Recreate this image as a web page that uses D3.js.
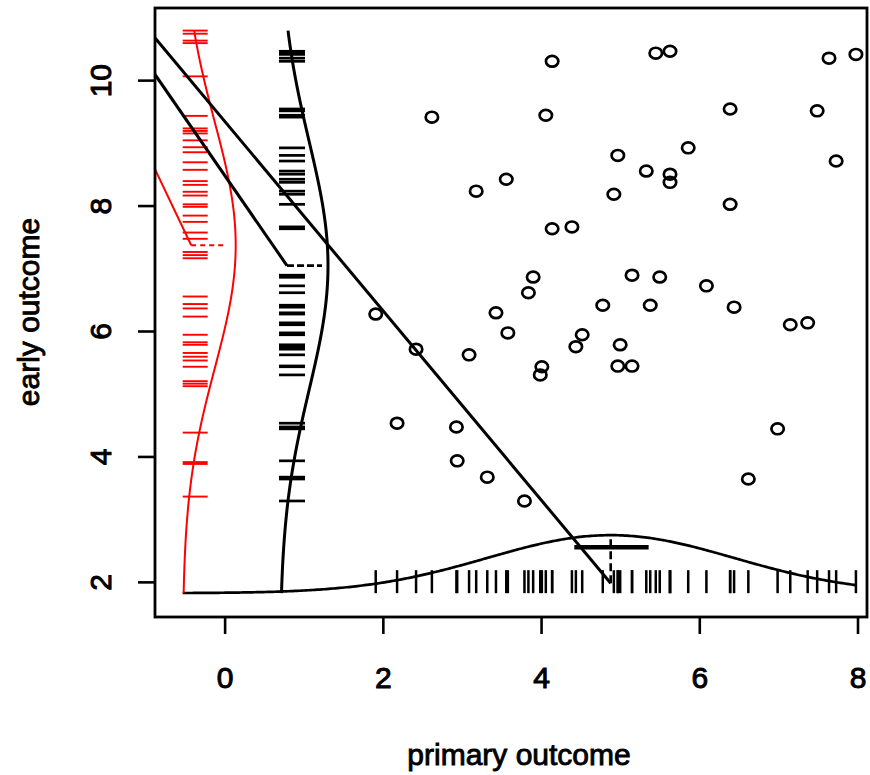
<!DOCTYPE html>
<html>
<head>
<meta charset="utf-8">
<script src="https://cdn.jsdelivr.net/npm/d3@7"></script>
<style>
  html, body { margin: 0; padding: 0; background: #fff; }
  svg { display: block; }
  text { font-family: "Liberation Sans", Arial, Helvetica, sans-serif; }
</style>
</head>
<body>
<svg id="chart" width="870" height="775"></svg>
<script>
// Subjects with both outcomes observed
const primaryOutcome = [
  4.14, 5.45, 5.63, 7.64, 7.98, 2.62, 4.06, 6.39, 7.49, 4.97,
  5.86, 7.73, 5.33, 5.63, 5.63, 3.56, 3.18, 4.92, 6.39, 4.14,
  4.39, 3.90, 5.15, 5.50, 6.09, 3.84, 4.78, 5.38, 6.44, 7.15,
  7.37, 3.43, 3.58, 4.52, 4.44, 1.91, 2.42, 3.09, 4.01, 3.99,
  5.00, 4.97, 5.15, 2.18, 2.93, 2.94, 3.32, 3.79, 6.99, 6.62
];
const earlyOutcome = [
  10.30, 10.43, 10.46, 10.35, 10.41, 9.41, 9.44, 9.54, 9.51, 8.80,
  8.92, 8.71, 8.55, 8.50, 8.37, 8.42, 8.23, 8.18, 8.02, 7.63,
  7.66, 6.86, 6.89, 6.86, 6.72, 6.61, 6.41, 6.41, 6.38, 6.10,
  6.13, 6.29, 5.97, 5.94, 5.75, 6.27, 5.71, 5.62, 5.43, 5.30,
  5.78, 5.44, 5.44, 4.53, 4.47, 3.93, 3.67, 3.29, 4.44, 3.64
];
// Subjects with only the early outcome observed
const earlyOnly = [
  10.79, 10.74, 10.63, 10.59, 10.06, 9.43, 9.23, 9.19, 9.15, 9.04,
  8.93, 8.85, 8.69, 8.57, 8.39, 8.33, 8.22, 8.16, 8.02, 7.98,
  7.84, 7.74, 7.57, 7.47, 7.26, 7.21, 7.16, 6.55, 6.43, 6.36,
  6.23, 5.94, 5.82, 5.78, 5.65, 5.59, 5.53, 5.43, 5.20, 5.16,
  5.12, 4.38, 3.91, 3.88, 3.36
];
// 95% interval for the mean primary outcome
const primaryMeanInterval = [4.42, 5.36];
const xTicks = [0, 2, 4, 6, 8];
const yTicks = [2, 4, 6, 8, 10];

// ---- layout ----
const plot = { left: 155, right: 867, top: 8, bottom: 617 };
const xDomain = [-0.88, 8.12];
const yDomain = [1.44, 11.15];
const xRugBase = 1.82;      // y position of the rug under the scatter
const yRugBase = 0.70;      // x position of the rug of early outcome
const redRugBase = -0.53;   // x position of the rug of early-only values
const pointerFrom = [-2.72, 13.45];

const svg = d3.select("#chart");
const x = d3.scaleLinear().domain(xDomain).range([plot.left, plot.right]);
const y = d3.scaleLinear().domain(yDomain).range([plot.bottom, plot.top]);

svg.append("defs").append("clipPath").attr("id", "plotClip")
  .append("rect")
  .attr("x", plot.left).attr("y", plot.top)
  .attr("width", plot.right - plot.left).attr("height", plot.bottom - plot.top);

const g = svg.append("g").attr("clip-path", "url(#plotClip)");

// summary statistics
const meanX = d3.mean(primaryOutcome);
const sdX = d3.deviation(primaryOutcome);
const meanY = d3.mean(earlyOutcome);
const sdY = d3.deviation(earlyOutcome);
const meanR = d3.mean(earlyOnly);
const sdR = d3.deviation(earlyOnly);
const yMax = d3.max(earlyOutcome.concat(earlyOnly));
const xMax = d3.max(primaryOutcome);

const bx = y(xRugBase);     // pixel baseline of bottom rug / density
const by = x(yRugBase);     // pixel baseline of black side rug / density
const br = x(redRugBase);   // pixel baseline of red side rug / density

// fitted normal curves along each margin
function normalShape(t, m, s) { return Math.exp(-((t - m) * (t - m)) / (2 * s * s)); }
const steps = 300;
const xGrid = d3.range(steps + 1).map(i => redRugBase + (xMax - redRugBase) * i / steps);
const yGrid = d3.range(steps + 1).map(i => xRugBase + (yMax - xRugBase) * i / steps);

const xDensPeak = 58, yDensPeak = 48, rDensPeak = 53;

g.append("path")
  .attr("d", d3.line().x(t => x(t)).y(t => bx - xDensPeak * normalShape(t, meanX, sdX))(xGrid))
  .attr("fill", "none").attr("stroke", "#000").attr("stroke-width", 2.7);

g.append("path")
  .attr("d", d3.line().x(t => by + yDensPeak * normalShape(t, meanY, sdY)).y(t => y(t))(yGrid))
  .attr("fill", "none").attr("stroke", "#000").attr("stroke-width", 3);

g.append("path")
  .attr("d", d3.line().x(t => br + rDensPeak * normalShape(t, meanR, sdR)).y(t => y(t))(yGrid))
  .attr("fill", "none").attr("stroke", "#ff0000").attr("stroke-width", 2);

// rugs
g.append("g").selectAll("line").data(primaryOutcome).join("line")
  .attr("x1", d => x(d)).attr("x2", d => x(d))
  .attr("y1", bx).attr("y2", bx - 23)
  .attr("stroke", "#000").attr("stroke-width", 2.5);

g.append("g").selectAll("line").data(earlyOutcome).join("line")
  .attr("x1", by - 1).attr("x2", by + 25)
  .attr("y1", d => y(d)).attr("y2", d => y(d))
  .attr("stroke", "#000").attr("stroke-width", 2.7);

g.append("g").selectAll("line").data(earlyOnly).join("line")
  .attr("x1", br).attr("x2", br + 25)
  .attr("y1", d => y(d)).attr("y2", d => y(d))
  .attr("stroke", "#ff0000").attr("stroke-width", 1.9);

// mean markers (dashed) with pointer lines from a common origin
const ox = x(pointerFrom[0]), oy = y(pointerFrom[1]);
const markers = [
  { px: x(meanX), py: bx - 10, qx: x(meanX), qy: bx - 55, color: "#000", w: 2.6, dash: "8,4", lw: 3 },
  { px: by + 7, py: y(meanY), qx: by + 42, qy: y(meanY), color: "#000", w: 2.6, dash: "7,3", lw: 3 },
  { px: br + 8.5, py: y(meanR), qx: br + 41, qy: y(meanR), color: "#ff0000", w: 1.9, dash: "5,4", lw: 2 }
];
markers.forEach(m => {
  g.append("line")
    .attr("x1", ox).attr("y1", oy).attr("x2", m.px).attr("y2", m.py)
    .attr("stroke", m.color).attr("stroke-width", m.lw);
  g.append("line")
    .attr("x1", m.px).attr("y1", m.py).attr("x2", m.qx).attr("y2", m.qy)
    .attr("stroke", m.color).attr("stroke-width", m.w).attr("stroke-dasharray", m.dash);
});

// interval bar for the mean primary outcome
g.append("line")
  .attr("x1", x(primaryMeanInterval[0])).attr("x2", x(primaryMeanInterval[1]))
  .attr("y1", bx - 46).attr("y2", bx - 46)
  .attr("stroke", "#000").attr("stroke-width", 4.5);

// scatter
g.append("g").selectAll("ellipse").data(primaryOutcome.map((v, i) => [v, earlyOutcome[i]]))
  .join("ellipse")
  .attr("cx", d => x(d[0])).attr("cy", d => y(d[1]))
  .attr("rx", 6.2).attr("ry", 5.4)
  .attr("fill", "none").attr("stroke", "#000").attr("stroke-width", 2.7);

// frame
svg.append("rect")
  .attr("x", plot.left).attr("y", plot.top)
  .attr("width", plot.right - plot.left).attr("height", plot.bottom - plot.top)
  .attr("fill", "none").attr("stroke", "#000").attr("stroke-width", 2.8);

// axes
const xAxis = svg.append("g")
  .attr("transform", `translate(0,${plot.bottom})`)
  .call(d3.axisBottom(x).tickValues(xTicks).tickSize(17).tickPadding(33).tickFormat(d3.format("d")));
const yAxis = svg.append("g")
  .attr("transform", `translate(${plot.left},0)`)
  .call(d3.axisLeft(y).tickValues(yTicks).tickSize(17).tickFormat(d3.format("d")));

[xAxis, yAxis].forEach(a => {
  a.select(".domain").remove();
  a.selectAll(".tick line").attr("stroke", "#000").attr("stroke-width", 2.6);
  a.selectAll(".tick text")
    .attr("fill", "#000").attr("stroke", "#000").attr("stroke-width", 1)
    .style("font-size", "30px")
    .style("font-family", '"Liberation Sans", Arial, sans-serif');
});
yAxis.selectAll(".tick text")
  .attr("x", 0).attr("dy", null)
  .attr("text-anchor", "middle")
  .attr("transform", "translate(-44,0) rotate(-90)");

// axis titles
svg.append("text")
  .attr("x", 519).attr("y", 765)
  .attr("text-anchor", "middle")
  .attr("fill", "#000").attr("stroke", "#000").attr("stroke-width", 0.9)
  .style("font-size", "30px")
  .text("primary outcome");
svg.append("text")
  .attr("transform", "translate(39,312) rotate(-90)")
  .attr("text-anchor", "middle")
  .attr("fill", "#000").attr("stroke", "#000").attr("stroke-width", 0.9)
  .style("font-size", "30px")
  .text("early outcome");
</script>
</body>
</html>
